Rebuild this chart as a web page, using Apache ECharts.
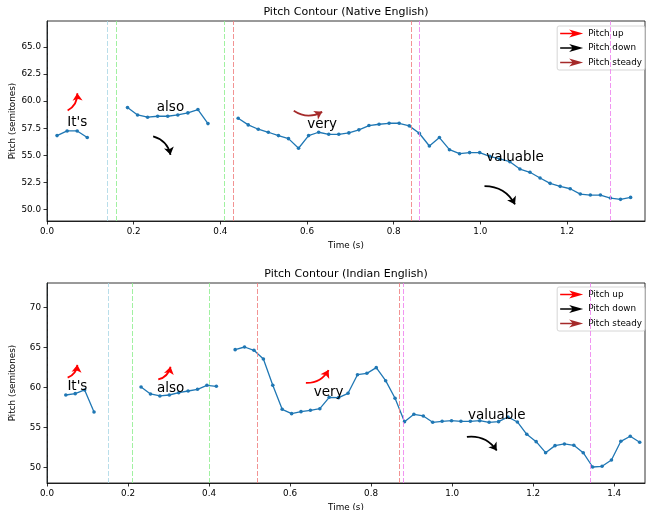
<!DOCTYPE html>
<html><head><meta charset="utf-8">
<script src="https://cdn.jsdelivr.net/npm/echarts@6/dist/echarts.min.js"></script>
<style>html,body{margin:0;padding:0;background:#fff}#c{width:646px;height:510px}</style>
</head><body><div id="c"></div>
<script>
// ---------------- data ----------------
const words = ["It's", "also", "very", "valuable"];

const nativeTime = [0.0232, 0.0464, 0.0697, 0.0929,
  0.1858, 0.2090, 0.2322, 0.2554, 0.2786, 0.3019, 0.3251, 0.3483, 0.3715,
  0.4412, 0.4644, 0.4876, 0.5108, 0.5341, 0.5573, 0.5805, 0.6037, 0.6269, 0.6502,
  0.6734, 0.6966, 0.7198, 0.7430, 0.7663, 0.7895, 0.8127, 0.8359, 0.8591, 0.8824,
  0.9056, 0.9288, 0.9520, 0.9752, 0.9985, 1.0217, 1.0449, 1.0681, 1.0913, 1.1146,
  1.1378, 1.1610, 1.1842, 1.2074, 1.2307, 1.2539, 1.2771, 1.3003, 1.3235, 1.3468];
const nativePitch = [56.82, 57.25, 57.25, 56.64,
  59.41, 58.73, 58.52, 58.61, 58.61, 58.73, 58.92, 59.23, 57.93,
  58.43, 57.81, 57.41, 57.13, 56.82, 56.54, 55.65, 56.82, 57.13, 56.94,
  56.94, 57.07, 57.35, 57.75, 57.87, 57.96, 57.96, 57.72, 57.04, 55.86,
  56.64, 55.52, 55.15, 55.25, 55.25, 54.91, 54.66, 54.41, 53.73, 53.43,
  52.90, 52.41, 52.13, 51.91, 51.42, 51.33, 51.33, 51.05, 50.93, 51.11];

const indianTime = [0.0464, 0.0697, 0.0929, 0.1161,
  0.2322, 0.2554, 0.2786, 0.3019, 0.3251, 0.3483, 0.3715, 0.3947, 0.4180,
  0.4644, 0.4876, 0.5108, 0.5341, 0.5573, 0.5805, 0.6037, 0.6269, 0.6502, 0.6734,
  0.6966, 0.7198, 0.7430, 0.7663, 0.7895, 0.8127, 0.8359, 0.8591, 0.8824, 0.9056,
  0.9288, 0.9520, 0.9752, 0.9985, 1.0217, 1.0449, 1.0681, 1.0913, 1.1146, 1.1378,
  1.1610, 1.1842, 1.2074, 1.2307, 1.2539, 1.2771, 1.3003, 1.3235, 1.3468, 1.3700,
  1.3932, 1.4164, 1.4396, 1.4629];
const indianPitch = [59.04, 59.21, 59.67, 56.92,
  60.04, 59.17, 58.92, 59.04, 59.33, 59.54, 59.75, 60.25, 60.13,
  64.71, 65.04, 64.63, 63.54, 60.25, 57.25, 56.71, 56.96, 57.13, 57.33,
  58.75, 58.71, 59.25, 61.58, 61.75, 62.46, 60.83, 58.63, 55.71, 56.63,
  56.42, 55.63, 55.75, 55.83, 55.75, 55.75, 55.83, 55.63, 55.71, 56.29,
  55.67, 54.13, 53.21, 51.83, 52.71, 52.92, 52.75, 51.83, 50.04, 50.13,
  50.92, 53.25, 53.88, 53.13];

const nativeWordStart = [0, 0.16, 0.43, 0.86];
const nativeWordEnd   = [0.14, 0.41, 0.84, 1.30];
const indianWordStart = [0, 0.21, 0.52, 0.88];
const indianWordEnd   = [0.15, 0.40, 0.87, 1.34];
const nativeDirection = ['up', 'down', 'steady', 'down'];
const indianDirection = ['up', 'up', 'up', 'down'];

const nativeDuration = 1.38;
const indianDuration = 1.476;
const nativeXTicks = [0.0, 0.2, 0.4, 0.6, 0.8, 1.0, 1.2];
const indianXTicks = [0.0, 0.2, 0.4, 0.6, 0.8, 1.0, 1.2, 1.4];
const nativeYTicks = [50.0, 52.5, 55.0, 57.5, 60.0, 62.5, 65.0];
const indianYTicks = [50, 55, 60, 65, 70];
const legendNames = ['Pitch up', 'Pitch down', 'Pitch steady'];
const legendDirs = ['up', 'down', 'steady'];

// ---------------- style ----------------
const FONT = 'DejaVu Sans';
const SMALL = 8.8;
const wordColors = ['#add8e6', '#90ee90', '#f08080', '#ee82ee'];
const dirColor = { up: '#ff0000', down: '#000000', steady: '#a52a2a' };
const arrowIcon = 'path://M0,3.2 L12,3.2 L9,0 L23,4 L9,8 L12,4.8 L0,4.8 Z';

function withGaps(t, p) {
  const out = [];
  for (let i = 0; i < t.length; i++) {
    if (i > 0 && t[i] - t[i - 1] > 0.035) out.push([(t[i] + t[i - 1]) / 2, '-']);
    out.push([t[i], p[i]]);
  }
  return out;
}
function pitchAt(t, p, x) {
  for (let i = 0; i < t.length - 1; i++) {
    if (t[i] <= x && t[i + 1] >= x) {
      const f = (x - t[i]) / (t[i + 1] - t[i]);
      return p[i] + f * (p[i + 1] - p[i]);
    }
  }
  let best = 0;
  for (let i = 1; i < t.length; i++) if (Math.abs(t[i] - x) < Math.abs(t[best] - x)) best = i;
  return p[best];
}

const option = {
  animation: false,
  textStyle: { fontFamily: FONT },
  title: [], grid: [], xAxis: [], yAxis: [], series: [], legend: []
};

function panel(idx, cfg) {
  const top = cfg.top;
  option.title.push({
    text: cfg.title, left: 346, top: cfg.titleTop, textAlign: 'center', padding: 0,
    textStyle: { fontFamily: FONT, fontSize: 11, fontWeight: 'normal', color: '#000' }
  });
  option.grid.push({ left: 47, top: top, width: 598, height: 200, show: true,
    outerBoundsMode: 'none', containLabel: false,
    borderColor: '#000', borderWidth: 0.8, backgroundColor: 'transparent' });
  const yMin = Math.min(...cfg.pitch) - 2, yMax = Math.max(...cfg.pitch) + 8;
  option.xAxis.push({
    gridIndex: idx, type: 'value', min: 0, max: cfg.xMax, z: 10,
    name: 'Time (s)', nameLocation: 'middle', nameGap: 20, nameMoveOverlap: false,
    nameTextStyle: { fontFamily: FONT, fontSize: SMALL, color: '#000' },
    axisLine: { show: true, onZero: false, lineStyle: { color: '#000', width: 0.8 } },
    axisTick: { show: true, length: 3.5, customValues: cfg.xTicks, lineStyle: { color: '#000', width: 0.8 } },
    axisLabel: { customValues: cfg.xTicks, formatter: v => v.toFixed(1), fontFamily: FONT, fontSize: SMALL, color: '#000', margin: 6 },
    splitLine: { show: false }
  });
  option.yAxis.push({
    gridIndex: idx, type: 'value', min: yMin, max: yMax, z: 10,
    name: 'Pitch (semitones)', nameLocation: 'middle', nameGap: 30, nameMoveOverlap: false,
    nameTextStyle: { fontFamily: FONT, fontSize: SMALL, color: '#000' },
    axisLine: { show: true, onZero: false, lineStyle: { color: '#000', width: 0.8 } },
    axisTick: { show: true, length: 3.5, customValues: cfg.yTicks, lineStyle: { color: '#000', width: 0.8 } },
    axisLabel: { customValues: cfg.yTicks, formatter: v => v.toFixed(cfg.yDec), fontFamily: FONT, fontSize: SMALL, color: '#000', margin: 6 },
    splitLine: { show: false }
  });
  // word boundary lines
  const bounds = [];
  cfg.ws.forEach((s, k) => {
    bounds.push({ xAxis: s, lineStyle: { color: wordColors[k], type: [5, 2], width: 1, opacity: 0.85 } });
    bounds.push({ xAxis: cfg.we[k], lineStyle: { color: wordColors[k], type: [5, 2], width: 1, opacity: 0.85 } });
  });
  option.series.push({
    type: 'line', xAxisIndex: idx, yAxisIndex: idx, data: withGaps(cfg.time, cfg.pitch),
    symbol: 'circle', symbolSize: 3.6, showAllSymbol: true, connectNulls: false,
    lineStyle: { color: '#1f77b4', width: 1.3 }, itemStyle: { color: '#1f77b4' },
    markLine: { silent: true, symbol: ['none', 'none'], label: { show: false }, data: bounds },
    z: 3
  });
  // word labels & arrows
  const labels = [], arrows = [];
  words.forEach((w, k) => {
    const mid = (cfg.ws[k] + cfg.we[k]) / 2, dur = cfg.we[k] - cfg.ws[k];
    const yRef = pitchAt(cfg.time, cfg.pitch, mid);
    labels.push([mid, yRef + 0.75, w]);
    const d = cfg.dirs[k];
    let y1, y2, curv;
    if (d === 'up') { y1 = yRef + 1.9; y2 = yRef + 3.5; curv = -0.3; }
    else if (d === 'down') { y1 = yRef - 1.9; y2 = yRef - 3.6; curv = 0.3; }
    else { y1 = yRef + 2.05; y2 = yRef + 1.95; curv = -0.3; }
    arrows.push({ coords: [[mid - 0.16 * dur, y1], [mid, y2]],
      lineStyle: { color: dirColor[d], width: 1.8, curveness: curv, opacity: 1 } });
  });
  option.series.push({
    type: 'scatter', xAxisIndex: idx, yAxisIndex: idx, data: labels, symbolSize: 0, silent: true,
    itemStyle: { color: '#000', opacity: 0 },
    label: { show: true, position: 'inside', formatter: p => p.data[2], fontFamily: FONT, fontSize: 13.5,
      color: '#000', opacity: 1, textBorderWidth: 0, textBorderColor: 'transparent' },
    z: 5
  });
  option.series.push({
    type: 'lines', coordinateSystem: 'cartesian2d', xAxisIndex: idx, yAxisIndex: idx,
    symbol: ['none', 'arrow'], symbolSize: 7.5, data: arrows, silent: true, z: 6
  });
  option.legend.push({
    orient: 'vertical', right: 1, top: cfg.legendTop, itemWidth: 23, itemHeight: 8, itemGap: 5.5,
    padding: [3, 3, 3, 3], borderColor: '#cccccc', borderWidth: 0.8, borderRadius: 2,
    backgroundColor: 'rgba(255,255,255,0.8)', selectedMode: false,
    textStyle: { fontFamily: FONT, fontSize: SMALL, color: '#000' },
    itemStyle: { borderWidth: 0 },
    data: legendNames.map(n => ({ name: n, icon: arrowIcon }))
  });
}

panel(0, { title: 'Pitch Contour (Native English)', titleTop: 7, top: 21, time: nativeTime, pitch: nativePitch,
  ws: nativeWordStart, we: nativeWordEnd, dirs: nativeDirection, xMax: nativeDuration,
  xTicks: nativeXTicks, yTicks: nativeYTicks, yDec: 1, legendTop: 26 });
panel(1, { title: 'Pitch Contour (Indian English)', titleTop: 269, top: 283, time: indianTime, pitch: indianPitch,
  ws: indianWordStart, we: indianWordEnd, dirs: indianDirection, xMax: indianDuration,
  xTicks: indianXTicks, yTicks: indianYTicks, yDec: 0, legendTop: 287 });

legendNames.forEach((n, k) => {
  option.series.push({ type: 'line', name: n, data: [], xAxisIndex: 0, yAxisIndex: 0,
    itemStyle: { color: dirColor[legendDirs[k]] }, lineStyle: { color: dirColor[legendDirs[k]] } });
});

const chart = echarts.init(document.getElementById('c'), null, { renderer: 'canvas' });
chart.setOption(option);
</script>
</body></html>
